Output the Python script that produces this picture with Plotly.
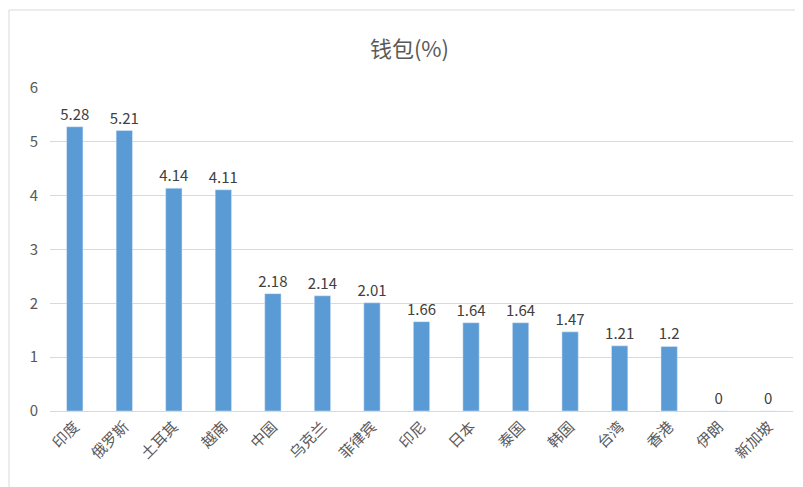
import plotly.graph_objects as go

categories = ["印度","俄罗斯","土耳其","越南","中国","乌克兰","菲律宾","印尼","日本","泰国","韩国","台湾","香港","伊朗","新加坡"]
values = [5.28,5.21,4.14,4.11,2.18,2.14,2.01,1.66,1.64,1.64,1.47,1.21,1.2,0,0]
labels = ["5.28","5.21","4.14","4.11","2.18","2.14","2.01","1.66","1.64","1.64","1.47","1.21","1.2","0","0"]

fig = go.Figure(go.Bar(x=categories, y=values, text=labels, textposition="outside",
                       textangle=0, constraintext="none",
                       marker_color="#5B9BD5", cliponaxis=False,
                       textfont=dict(size=15, color="#404040")))
fig.update_layout(
    width=803, height=487, paper_bgcolor="white", plot_bgcolor="white",
    margin=dict(l=42, r=18, t=80, b=84, autoexpand=False), bargap=0.67, showlegend=False,
    uniformtext=dict(minsize=15, mode="show"),
    font=dict(family="Noto Sans CJK SC", color="#595959"),
    title=dict(text="钱包(%)", x=0.5, y=0.93, xanchor="center", font=dict(size=22, color="#595959")),
    shapes=[dict(type="rect", xref="paper", yref="paper", x0=-41/743, x1=1+16/743, y0=-82/323, y1=1+78/323,
                 line=dict(color="#D9D9D9", width=1))],
)
fig.update_yaxes(range=[0,6], dtick=1, gridcolor="#D9D9D9", zeroline=False, tickfont=dict(size=15),
                 ticklen=8, ticks="outside", tickcolor="white", automargin=False)
fig.update_xaxes(tickangle=-45, tickfont=dict(size=15), showline=True, linecolor="#D9D9D9", automargin=False)
fig.write_html("out.html")
